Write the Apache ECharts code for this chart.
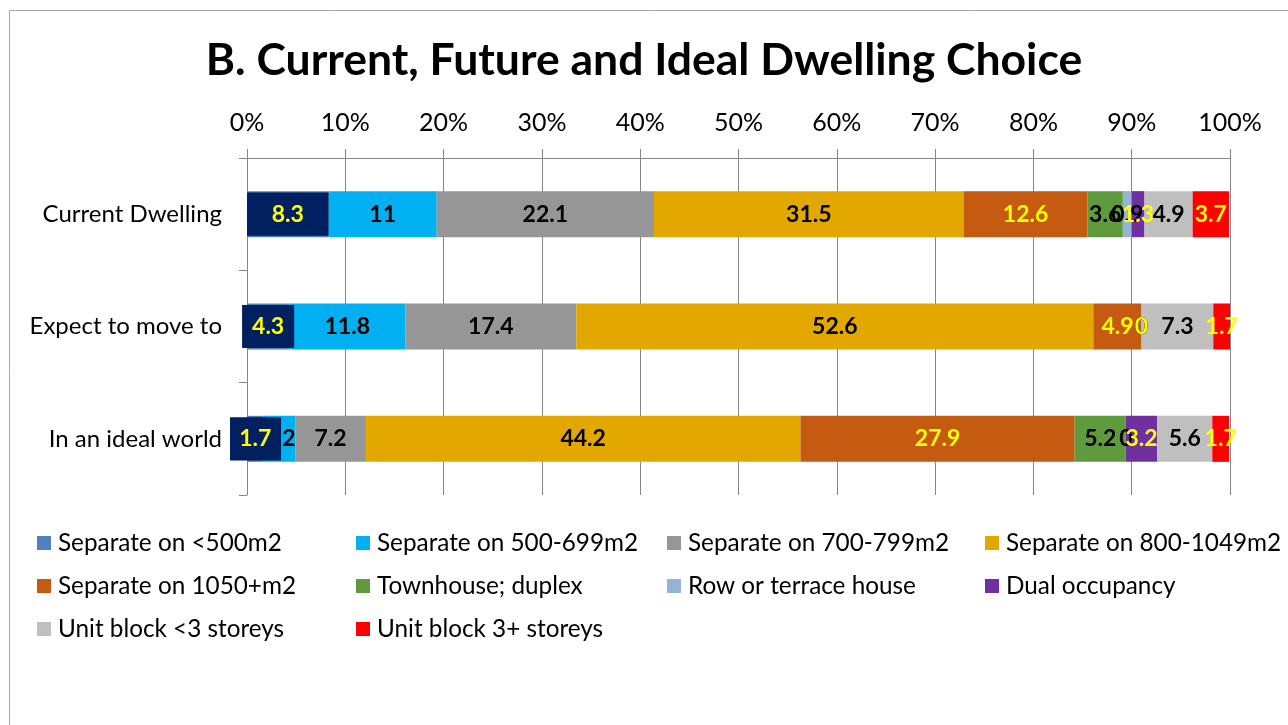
<!DOCTYPE html>
<html>
<head>
<meta charset="utf-8">
<script src="https://cdn.jsdelivr.net/npm/echarts@6/dist/echarts.min.js"></script>
<style>html,body{margin:0;padding:0;background:#fff;}#c{width:1288px;height:725px;}</style>
</head>
<body>
<div id="c"></div>
<script>
var categories = ['Current Dwelling', 'Expect to move to', 'In an ideal world'];
var seriesNames = ['Separate on <500m2', 'Separate on 500-699m2', 'Separate on 700-799m2', 'Separate on 800-1049m2',
  'Separate on 1050+m2', 'Townhouse; duplex', 'Row or terrace house', 'Dual occupancy', 'Unit block <3 storeys', 'Unit block 3+ storeys'];
var sepUnder500 = [8.3, 4.3, 1.7];
var sep500to699 = [11, 11.8, 3.2];
var sep700to799 = [22.1, 17.4, 7.2];
var sep800to1049 = [31.5, 52.6, 44.2];
var sep1050plus = [12.6, 4.9, 27.9];
var townhouse = [3.6, 0, 5.2];
var rowTerrace = [0.9, 0, 0];
var dualOcc = [1.3, 0, 3.2];
var unitUnder3 = [4.9, 7.3, 5.6];
var unit3plus = [3.7, 1.7, 1.7];
// dark highlight boxes laid over the first segment (start %, end %)
var boxStart = [0, -0.5, -1.73];
var boxEnd = [8.3, 4.8, 3.46];
var xTicks = [0, 10, 20, 30, 40, 50, 60, 70, 80, 90, 100];

var allValues = [sepUnder500, sep500to699, sep700to799, sep800to1049, sep1050plus, townhouse, rowTerrace, dualOcc, unitUnder3, unit3plus];
var colors = ['#4F81BD', '#00B0F0', '#969696', '#E2A800', '#C55A11', '#5F9A3E', '#95B3D7', '#7030A0', '#BFBFBF', '#FF0000'];
var labelColors = ['#FFFF00', '#000', '#000', '#000', '#FFFF00', '#000', '#000', '#FFFF00', '#000', '#FFFF00'];
var FONT = 'Lato';
var LABEL_SIZE = 23;

var series = allValues.map(function (vals, i) {
  return {
    name: seriesNames[i], type: 'bar', stack: 'all', z: 2,
    barCategoryGap: '59%',
    itemStyle: { color: colors[i] },
    label: { show: i !== 0, position: 'inside', color: labelColors[i], fontFamily: FONT, fontWeight: 'bold', fontSize: LABEL_SIZE,
      formatter: function (p) { return String(p.value); } },
    data: vals
  };
});
series.push({
  type: 'custom', name: 'box', silent: true, z: 3,
  encode: { x: [1, 2], y: 0 },
  data: categories.map(function (c, i) { return [i, boxStart[i], boxEnd[i], sepUnder500[i]]; }),
  renderItem: function (params, api) {
    var yi = api.value(0);
    var s = api.coord([api.value(1), yi]);
    var e = api.coord([api.value(2), yi]);
    var m = api.coord([api.value(3) / 2, yi]);
    var h = api.size([0, 1])[1] * 0.385;
    return {
      type: 'group',
      children: [
        { type: 'rect', shape: { x: s[0], y: s[1] - h / 2, width: e[0] - s[0], height: h }, style: { fill: '#002060' } },
        { type: 'text', style: { x: m[0], y: m[1], text: String(api.value(3)), fill: labelColors[0], align: 'center', verticalAlign: 'middle',
          font: 'bold ' + LABEL_SIZE + 'px ' + FONT } }
      ]
    };
  }
});

function legendCol(left, names) {
  return {
    orient: 'vertical', left: left, top: 531, padding: 0, itemWidth: 14, itemHeight: 14, itemGap: 19, icon: 'rect',
    selectedMode: false,
    textStyle: { fontFamily: FONT, fontSize: 24.3, color: '#000', lineHeight: 24, padding: [0, 0, 0, 2] },
    data: names
  };
}

var chart = echarts.init(document.getElementById('c'));
chart.setOption({
  animation: false,
  backgroundColor: '#fff',
  color: colors,
  title: { text: 'B. Current, Future and Ideal Dwelling Choice', left: 'center', top: 33,
    textStyle: { fontFamily: FONT, fontWeight: 'bold', fontSize: 44.5, color: '#000' } },
  graphic: [{ type: 'rect', left: 7, top: 8, shape: { width: 1300, height: 740 }, style: { fill: null, stroke: '#A6A6A6', lineWidth: 1 }, silent: true }],
  grid: { left: 247, right: 58, top: 158, bottom: 230 },
  xAxis: {
    type: 'value', position: 'top', min: 0, max: 100, interval: 10,
    axisLine: { show: true, lineStyle: { color: '#868686' } },
    axisTick: { show: true, length: 9, lineStyle: { color: '#868686' } },
    axisLabel: { margin: 23, fontFamily: FONT, fontSize: 25, color: '#000', formatter: function (v) { return xTicks.indexOf(v) >= 0 ? v + '%' : ''; } },
    splitLine: { show: true, lineStyle: { color: '#868686' } }
  },
  yAxis: {
    type: 'category', inverse: true, data: categories,
    axisLine: { show: true, lineStyle: { color: '#868686' } },
    axisTick: { show: true, length: 8, lineStyle: { color: '#868686' } },
    axisLabel: { margin: 25, fontFamily: FONT, fontSize: 24, color: '#000' }
  },
  legend: [
    legendCol(37, [seriesNames[0], seriesNames[4], seriesNames[8]]),
    legendCol(356, [seriesNames[1], seriesNames[5], seriesNames[9]]),
    legendCol(667, [seriesNames[2], seriesNames[6]]),
    legendCol(985, [seriesNames[3], seriesNames[7]])
  ],
  series: series
});
</script>
</body>
</html>
